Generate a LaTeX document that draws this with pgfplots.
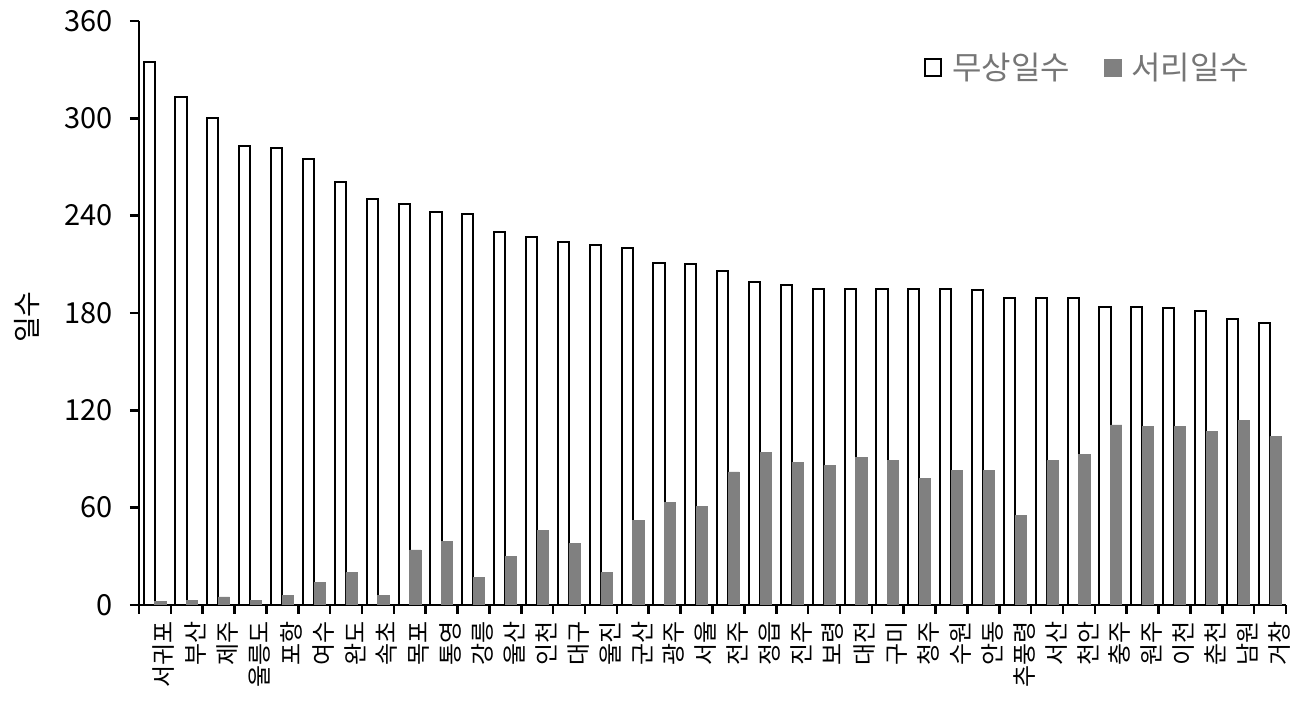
\documentclass[border=0pt]{standalone}
\usepackage{fontspec}
\setmainfont{Noto Sans CJK KR}
\usepackage{pgfplots}
\usepackage{pgfplotstable}
\pgfplotsset{compat=1.18}

\definecolor{frostgray}{RGB}{128,128,128}
\definecolor{legendtext}{RGB}{118,118,118}

% idx: station order, frostfree: 무상일수, frost: 서리일수
\pgfplotstableread{
idx frostfree frost
0  335 2
1  313 3
2  300 5
3  283 3
4  282 6
5  275 14
6  261 20
7  250 6
8  247 34
9  242 39
10 241 17
11 230 30
12 227 46
13 224 38
14 222 20
15 220 52
16 211 63
17 210 61
18 206 82
19 199 94
20 197 88
21 195 86
22 195 91
23 195 89
24 195 78
25 195 83
26 194 83
27 189 55
28 189 89
29 189 93
30 184 111
31 184 110
32 183 110
33 181 107
34 176 114
35 174 104
}\daysdata

\begin{document}
\begin{tikzpicture}
\path[use as bounding box] (-69.5pt,-55pt) rectangle (582pt,302.5pt);
\begin{axis}[
    scale only axis,
    width=573.5pt,
    height=292pt,
    xmin=-0.5, xmax=35.5,
    ymin=0, ymax=360,
    ytick={0,60,...,360},
    xtick={0,...,35},
    xticklabels={서귀포,부산,제주,울릉도,포항,여수,완도,속초,목포,통영,강릉,울산,인천,대구,울진,군산,광주,서울,전주,정읍,진주,보령,대전,구미,청주,수원,안동,추풍령,서산,천안,충주,원주,이천,춘천,남원,거창},
    minor xtick={-0.5,0.5,...,35.5},
    every major x tick/.append style={draw=none},
    axis lines=left,
    axis line style={-, line width=1.3pt},
    tick align=outside,
    tick pos=left,
    major tick length=4.5pt,
    minor tick length=4.5pt,
    every tick/.style={line width=1.3pt, black},
    xticklabel style={rotate=90, anchor=east, font=\fontsize{12}{14}\selectfont, yshift=-4.5pt},
    yticklabel style={font=\fontsize{14.5}{17}\selectfont, xshift=-5pt},
    /pgf/number format/assume math mode=true,
    ylabel={일수},
    ylabel style={at={(axis description cs:-0.0977,0.493)}, anchor=center, font=\fontsize{14}{16}\selectfont},
    ybar=0pt,
    bar width=0.35,
    legend style={at={(axis description cs:0.977,0.96)}, anchor=north east, draw=none, fill=none,
        font=\fontsize{16}{19}\selectfont\color{legendtext},
        /tikz/every even column/.append style={column sep=15pt},
        /tikz/every odd column/.append style={column sep=3pt}},
    legend columns=2,
    legend image code/.code={\draw[#1] (0pt,-4.2pt) rectangle (8.4pt,4.2pt);},
]
\addplot[fill=white, draw=black, line width=1pt, bar shift=-0.18] table[x=idx, y=frostfree] {\daysdata};
\addplot[fill=frostgray, draw=frostgray, line width=0.3pt, bar shift=0.17] table[x=idx, y=frost] {\daysdata};
\legend{무상일수, 서리일수}
\end{axis}
\end{tikzpicture}
\end{document}
